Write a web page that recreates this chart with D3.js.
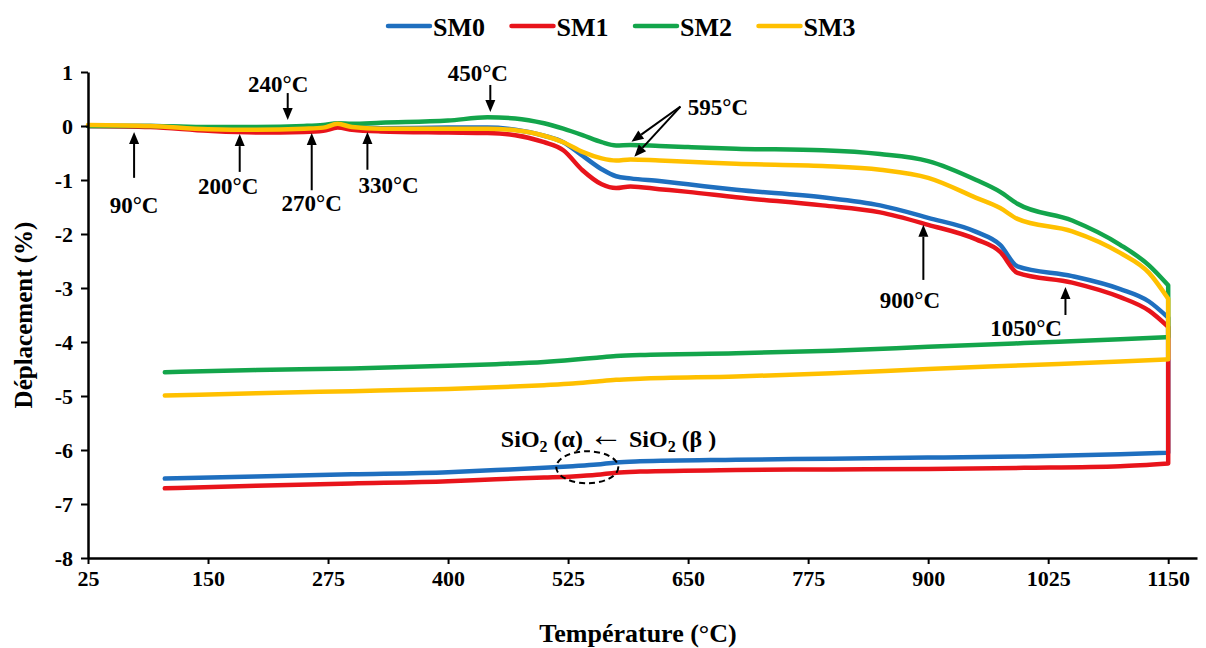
<!DOCTYPE html>
<html><head><meta charset="utf-8">
<script src="https://cdn.jsdelivr.net/npm/d3@7"></script>
<style>
body{margin:0;background:#fff}
text{font-family:"Liberation Serif","Times New Roman",serif;font-weight:bold;fill:#000}
</style>
</head><body>
<svg id="chart" width="1206" height="648"></svg>
<script>
// ---------- data ----------
const seriesNames = ["SM0", "SM1", "SM2", "SM3"];
const seriesColors = ["#1F6FBF", "#E8141B", "#13A54B", "#FFC000"];
const heatT = [25, 90, 150, 200, 250, 270, 285, 300, 330, 400, 441, 470, 500, 520, 540, 560, 575, 590, 620, 650, 700, 790, 850, 900, 950, 975, 993, 1050, 1100, 1130, 1150];
const heatSM0 = [0, 0, -0.04, -0.05, -0.04, -0.03, 0.02, -0.02, -0.04, -0.03, -0.03, -0.07, -0.18, -0.30, -0.55, -0.80, -0.93, -0.97, -1.02, -1.08, -1.18, -1.32, -1.47, -1.70, -1.96, -2.20, -2.60, -2.78, -3.02, -3.25, -3.55];
const heatSM1 = [0, -0.02, -0.09, -0.12, -0.11, -0.09, -0.03, -0.07, -0.10, -0.12, -0.13, -0.17, -0.30, -0.45, -0.82, -1.08, -1.15, -1.12, -1.17, -1.22, -1.32, -1.47, -1.60, -1.83, -2.10, -2.33, -2.72, -2.90, -3.17, -3.42, -3.72];
const heatSM2 = [0, 0, -0.02, -0.02, 0, 0.02, 0.05, 0.04, 0.06, 0.10, 0.16, 0.14, 0.05, -0.05, -0.17, -0.30, -0.36, -0.35, -0.37, -0.39, -0.42, -0.45, -0.52, -0.65, -1.00, -1.22, -1.44, -1.75, -2.20, -2.58, -2.95];
const heatSM3 = [0.02, 0, -0.06, -0.07, -0.05, -0.03, 0.04, -0.02, -0.05, -0.05, -0.05, -0.08, -0.18, -0.30, -0.48, -0.60, -0.64, -0.62, -0.64, -0.66, -0.70, -0.74, -0.81, -0.96, -1.33, -1.52, -1.72, -1.95, -2.35, -2.72, -3.20];
const coolT = [1150, 1100, 1000, 900, 800, 700, 600, 575, 555, 530, 500, 450, 400, 300, 200, 105];
const coolSM0 = [-6.05, -6.08, -6.12, -6.14, -6.16, -6.18, -6.21, -6.23, -6.27, -6.30, -6.33, -6.37, -6.41, -6.45, -6.49, -6.53];
const coolSM1 = [-6.25, -6.30, -6.33, -6.35, -6.36, -6.37, -6.40, -6.42, -6.46, -6.49, -6.51, -6.54, -6.58, -6.62, -6.66, -6.71];
const coolSM2 = [-3.91, -3.95, -4.02, -4.09, -4.16, -4.21, -4.24, -4.26, -4.29, -4.33, -4.37, -4.41, -4.44, -4.49, -4.52, -4.56];
const coolSM3 = [-4.32, -4.36, -4.43, -4.50, -4.58, -4.64, -4.68, -4.70, -4.73, -4.77, -4.80, -4.84, -4.87, -4.91, -4.95, -4.99];
const xTicks = [25, 150, 275, 400, 525, 650, 775, 900, 1025, 1150];
const yTicks = [-8, -7, -6, -5, -4, -3, -2, -1, 0, 1];
const xTitle = "Température  (°C)";
const yTitle = "Déplacement (%)";
const annoLabels = ["90°C", "200°C", "270°C", "330°C", "240°C", "450°C", "595°C", "900°C", "1050°C"];

// ---------- layout ----------
const svg = d3.select("#chart");
const x = d3.scaleLinear().domain([25, 1180]).range([88, 1197]);
const y = d3.scaleLinear().domain([-8, 1]).range([558, 72]);

const heats = [heatSM0, heatSM1, heatSM2, heatSM3];
const cools = [coolSM0, coolSM1, coolSM2, coolSM3];
const mono = d3.line().x(d => x(d[0])).y(d => y(d[1])).curve(d3.curveMonotoneX);
const series = seriesNames.map((n, i) => {
  const hp = heatT.map((t, j) => [t, heats[i][j]]);
  const cp = coolT.map((t, j) => [t, cools[i][j]]);
  // heating curve, straight vertical drop at max temperature, then cooling curve
  const d = mono(hp) + mono(cp).replace(/^M/, "L");
  return {name: n, color: seriesColors[i], d};
});

svg.append("g").selectAll("path").data(series).join("path")
  .attr("d", s => s.d).attr("fill", "none")
  .attr("stroke", s => s.color).attr("stroke-width", 4.5)
  .attr("stroke-linecap", "round").attr("stroke-linejoin", "round");

// axes
const gx = svg.append("g").attr("transform", `translate(0,${y(-8)})`)
  .call(d3.axisBottom(x).tickValues(xTicks).tickFormat(d => String(d))
    .tickSize(6).tickPadding(6).tickSizeOuter(0));
const gy = svg.append("g").attr("transform", `translate(${x(25)},0)`)
  .call(d3.axisLeft(y).tickValues(yTicks).tickFormat(d => String(d))
    .tickSize(7).tickPadding(8).tickSizeOuter(0));
[gx, gy].forEach(g => {
  g.select(".domain").attr("stroke", "#000").attr("stroke-width", 2.5);
  g.selectAll(".tick line").attr("stroke", "#000").attr("stroke-width", 2);
  g.selectAll(".tick text").style("font-family", '"Liberation Serif",serif')
    .style("font-weight", "bold").style("font-size", "22px").attr("fill", "#000");
});

svg.append("text").attr("x", 638).attr("y", 642).attr("text-anchor", "middle")
  .style("font-size", "26px").text(xTitle);
svg.append("text").attr("transform", `translate(32,${(72 + 558) / 2}) rotate(-90)`)
  .attr("text-anchor", "middle").style("font-size", "25px").text(yTitle);

// legend
const leg = svg.append("g");
series.forEach((s, i) => {
  const x0 = 388 + i * 123.5;
  leg.append("line").attr("x1", x0).attr("x2", x0 + 42).attr("y1", 26).attr("y2", 26)
    .attr("stroke", s.color).attr("stroke-width", 4.5).attr("stroke-linecap", "round");
  leg.append("text").attr("x", x0 + 45).attr("y", 36).style("font-size", "26px").text(s.name);
});

// annotations (data coordinates)
const annoPos = [
  {tx: 73, tv: -1.46, arrows: [[73, -0.96, 73, -0.11]]},
  {tx: 171, tv: -1.11, arrows: [[183, -0.85, 183, -0.15]]},
  {tx: 258, tv: -1.43, arrows: [[258, -1.19, 258, -0.13]]},
  {tx: 338, tv: -1.09, arrows: [[316, -0.81, 316, -0.11]]},
  {tx: 223, tv: 0.78, arrows: [[233, 0.61, 233, 0.11]]},
  {tx: 431, tv: 0.98, arrows: [[444, 0.76, 444, 0.26]]},
  {tx: 681, tv: 0.36, arrows: [[642, 0.36, 591, -0.29], [642, 0.36, 594, -0.57]]},
  {tx: 881, tv: -3.22, arrows: [[895, -2.85, 895, -1.83]]},
  {tx: 1002, tv: -3.74, arrows: [[1043, -3.5, 1043, -2.98]]}
];
const ag = svg.append("g");
annoPos.forEach((a, i) => {
  ag.append("text").attr("x", x(a.tx)).attr("y", y(a.tv)).attr("dy", "0.35em")
    .attr("text-anchor", "middle").style("font-size", "23px").text(annoLabels[i]);
  a.arrows.forEach(([t0, v0, t1, v1]) => {
    const X0 = x(t0), Y0 = y(v0), X1 = x(t1), Y1 = y(v1);
    const ang = Math.atan2(Y1 - Y0, X1 - X0), L = 12, W = 5;
    const bx = X1 - L * Math.cos(ang), by = Y1 - L * Math.sin(ang);
    ag.append("line").attr("x1", X0).attr("y1", Y0).attr("x2", bx).attr("y2", by)
      .attr("stroke", "#000").attr("stroke-width", 2);
    ag.append("path").attr("fill", "#000").attr("d",
      `M${X1},${Y1}L${bx + W * Math.sin(ang)},${by - W * Math.cos(ang)}L${bx - W * Math.sin(ang)},${by + W * Math.cos(ang)}Z`);
  });
});

// SiO2 transition label
const st = svg.append("text").attr("x", x(455)).attr("y", y(-5.94)).style("font-size", "24px");
st.append("tspan").text("SiO");
st.append("tspan").attr("dy", 5).style("font-size", "16px").text("2");
st.append("tspan").attr("dy", -5).text(" (α) ");
st.append("tspan").attr("dy", -1).style("font-weight", "normal").style("font-size", "34px").text("←");
st.append("tspan").attr("dy", 1).text(" SiO");
st.append("tspan").attr("dy", 5).style("font-size", "16px").text("2");
st.append("tspan").attr("dy", -5).text(" (β )");

svg.append("ellipse").attr("cx", x(545)).attr("cy", y(-6.32)).attr("rx", 31).attr("ry", 16)
  .attr("fill", "none").attr("stroke", "#000").attr("stroke-width", 2).attr("stroke-dasharray", "6,4");
</script>
</body></html>
